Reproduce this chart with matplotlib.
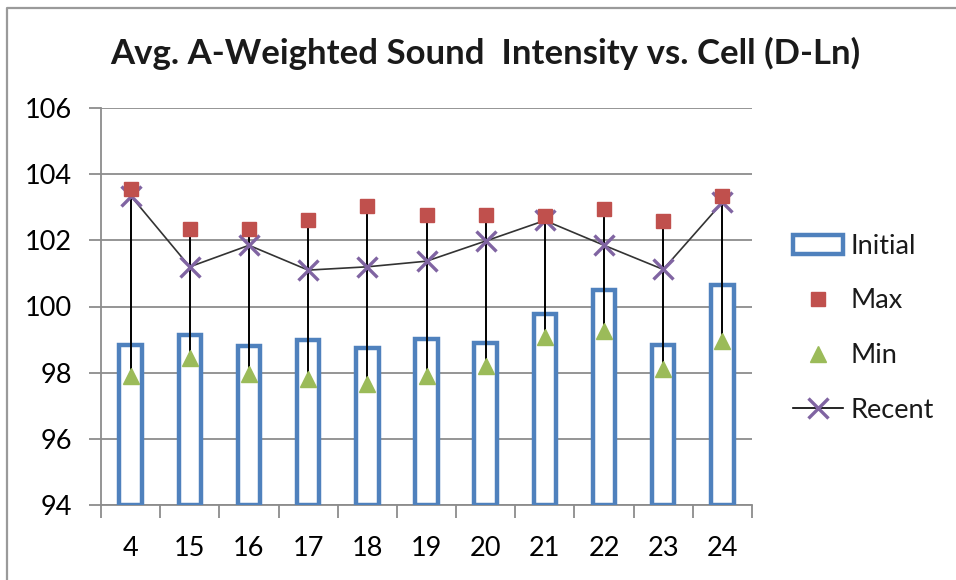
"""Avg. A-weighted sound intensity per cell: initial bars, max/min high-low, recent line."""

import numpy as np
import matplotlib
matplotlib.use("Agg")
import matplotlib.pyplot as plt
from matplotlib.lines import Line2D
from matplotlib.patches import Patch

cells   = ["4", "15", "16", "17", "18", "19", "20", "21", "22", "23", "24"]
initial = [98.85, 99.15, 98.80, 98.98, 98.75, 99.03, 98.90, 99.78, 100.50, 98.85, 100.65]
max_db  = [103.55, 102.33, 102.35, 102.60, 103.05, 102.76, 102.76, 102.75, 102.94, 102.57, 103.35]
min_db  = [97.90, 98.45, 97.95, 97.80, 97.65, 97.90, 98.20, 99.08, 99.25, 98.10, 98.95]
recent  = [103.35, 101.20, 101.85, 101.10, 101.20, 101.37, 101.98, 102.60, 101.85, 101.12, 103.15]

BLUE   = "#4F81BD"
RED    = "#C0504D"
GREEN  = "#9BBB59"
PURPLE = "#8064A2"
GRID   = "#8C8C8C"

plt.rcParams.update({"font.family": ["Lato", "DejaVu Sans"], "text.color": "#1a1a1a"})

fig = plt.figure(figsize=(9.56, 5.8), dpi=100)
ax = fig.add_axes([101 / 956, 75 / 580, 651 / 956, 397 / 580])

x = np.arange(len(cells))

# bars sit on the axis floor (94)
ax.bar(x, np.array(initial) - 94, bottom=94, width=0.38, facecolor="white",
       edgecolor=BLUE, linewidth=3.2, zorder=3)

# high-low lines
ax.vlines(x, min_db, max_db, color="black", linewidth=1.4, zorder=4)

ax.plot(x, recent, color="#333333", linewidth=1.2, marker="x", markersize=15,
        markeredgecolor=PURPLE, markeredgewidth=2.4, zorder=5)
ax.plot(x, max_db, linestyle="none", marker="s", markersize=10,
        color=RED, zorder=6)
ax.plot(x, min_db, linestyle="none", marker="^", markersize=11,
        color=GREEN, zorder=6)

ax.set_xlim(-0.5, len(cells) - 0.5)
ax.set_ylim(94, 106)
ax.set_yticks(np.arange(94, 107, 2))
ax.set_xticks(np.arange(-0.5, len(cells), 1), minor=False)
ax.set_xticklabels([])
ax.set_xticks(x, minor=True)
ax.set_xticklabels(cells, minor=True)
ax.tick_params(axis="x", which="major", length=9, width=1.3, color=GRID, direction="out")
ax.tick_params(axis="x", which="minor", length=0, pad=22, labelsize=19.5)
ax.tick_params(axis="y", length=9, width=1.3, color=GRID, labelsize=19.5, pad=12)

ax.grid(axis="y", color=GRID, linewidth=1.3, zorder=0)
ax.set_axisbelow(True)
for side in ("top", "right"):
    ax.spines[side].set_visible(False)
for side in ("left", "bottom"):
    ax.spines[side].set_color(GRID)
    ax.spines[side].set_linewidth(1.3)

fig.text(0.508, 0.908, "Avg. A-Weighted Sound  Intensity vs. Cell (D-Ln)",
         ha="center", va="center", fontsize=25, fontweight="bold")

handles = [
    Patch(facecolor="white", edgecolor=BLUE, linewidth=3.2),
    Line2D([], [], linestyle="none", marker="s", markersize=10, color=RED),
    Line2D([], [], linestyle="none", marker="^", markersize=11, color=GREEN),
    Line2D([], [], color="black", linewidth=1.2, marker="x", markersize=15,
           markeredgecolor=PURPLE, markeredgewidth=2.4),
]
fig.legend(handles, ["Initial", "Max", "Min", "Recent"], loc="center left",
           bbox_to_anchor=(0.8035, 0.434), frameon=False, fontsize=19.5,
           handlelength=1.85, handletextpad=0.3, labelspacing=1.1)

# chart frame (only top and left edges visible in the crop)
fig.add_artist(Line2D([7 / 956, 7 / 956, 1.0], [0.0, 1 - 8 / 580, 1 - 8 / 580],
                      transform=fig.transFigure, color="#9a9a9a", linewidth=1.6))

fig.savefig("out.png", dpi=100)
